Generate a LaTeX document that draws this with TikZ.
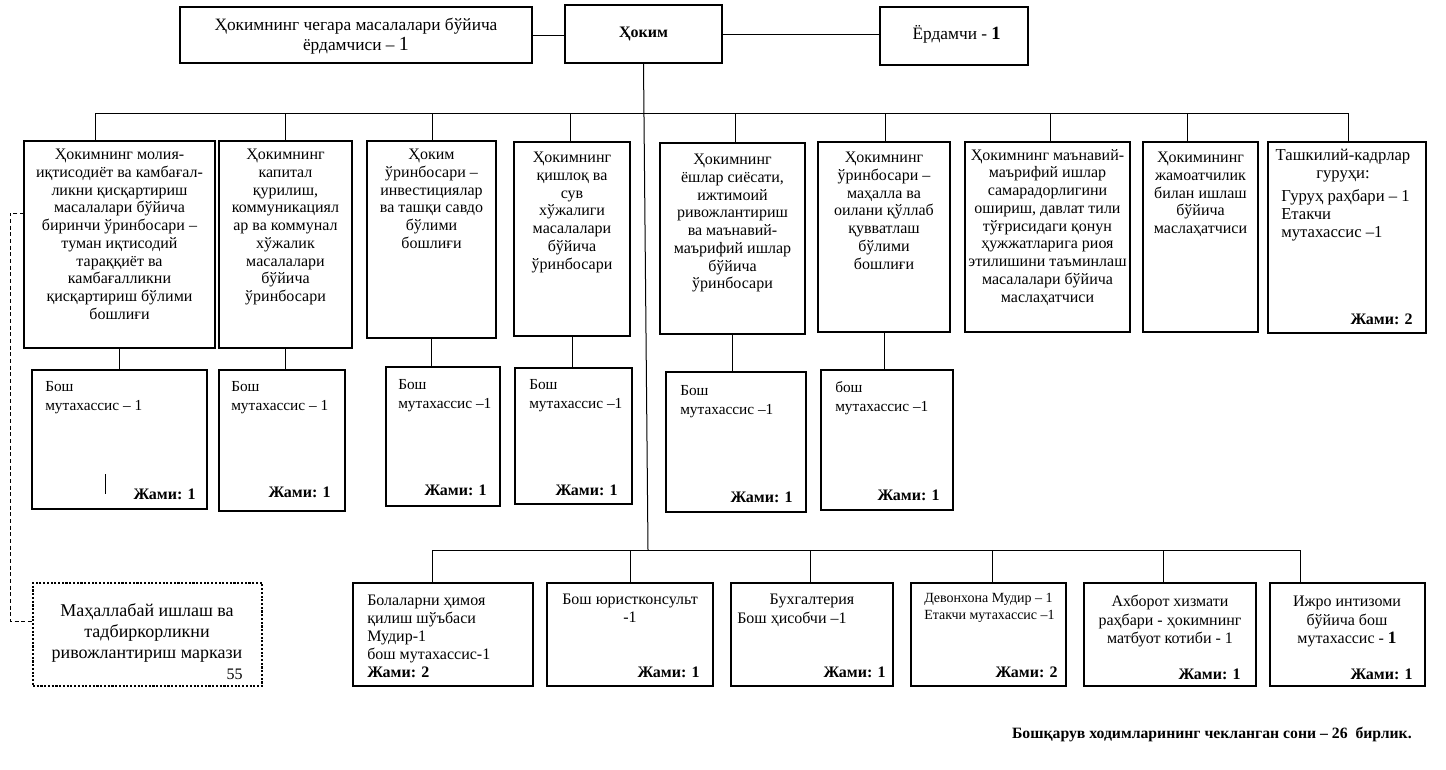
\documentclass[tikz,border=0pt]{standalone}
\usepackage{fontspec}
\setmainfont{Liberation Serif}
\usetikzlibrary{fit}
\tikzset{
  box/.style={draw, line width=0.9pt, inner sep=0pt},
  conn/.style={line width=0.75pt},
  dashy/.style={line width=0.6pt, dash pattern=on 3pt off 2pt},
  dotbox/.style={draw, line width=2pt, dash pattern=on 1.6pt off 1.2pt, inner sep=0pt},
  txt/.style={inner sep=0pt, align=center, font=\fontsize{12}{13.3}\selectfont},
  ltxt/.style={inner sep=0pt, align=left, font=\fontsize{11.5}{14.2}\selectfont},
  btxt/.style={inner sep=0pt, align=left, font=\fontsize{12}{13.5}\selectfont},
  jami/.style={inner sep=0pt, anchor=base east, font=\bfseries\fontsize{12}{13}\selectfont},
}
\begin{document}
\begin{tikzpicture}[x=0.75pt,y=-0.75pt]
\useasboundingbox (0,0) rectangle (1446,769);

% ---- top row
\node[box, fit={(180,7)(532,63)}] (ta) {};
\node[txt, font=\fontsize{13}{15}\selectfont] (tat) at ([yshift=-0.5pt]ta.center) {Ҳокимнинг чегара масалалари бўйича\\ёрдамчиси – {\fontsize{15}{15}\selectfont 1}};
\node[box, fit={(565,5)(722,63)}] (hk) {};
\node[txt, font=\bfseries\fontsize{12}{13}\selectfont] (hkt) at ([yshift=0pt]hk.center) {Ҳоким};
\node[box, fit={(880,7)(1028,65)}] (yr) {};
\node[txt, font=\fontsize{13}{14}\selectfont] (yrt) at ([xshift=2pt,yshift=1.5pt]yr.center) {Ёрдамчи - {\bfseries\fontsize{14}{15}\selectfont 1}};
\draw[conn] (ta.east) -- (ta.east -| hk.west);
\draw[conn] (hk.east) -- (hk.east -| yr.west);

% ---- upper bus
\coordinate (d1) at (95,113);
\coordinate (d2) at (285,113);
\coordinate (d3) at (432,113);
\coordinate (d4) at (570,113);
\coordinate (d5) at (735,113);
\coordinate (d6) at (885,113);
\coordinate (d7) at (1050,113);
\coordinate (d8) at (1187,113);
\coordinate (d9) at (1348,113);
\draw[conn] (d1) -- (d9);

% ---- row 2 boxes
\node[box, fit={(24,141)(215,348)}] (r21) {};
\node[box, fit={(219,141)(352,348)}] (r22) {};
\node[box, fit={(367,141)(496,338)}] (r23) {};
\node[box, fit={(514,142)(630,336)}] (r24) {};
\node[box, fit={(660,143)(805,334)}] (r25) {};
\node[box, fit={(818,142)(950,332)}] (r26) {};
\node[box, fit={(965,142)(1130,332)}] (r27) {};
\node[box, fit={(1143,142)(1258,332)}] (r28) {};
\node[box, fit={(1268,142)(1426,333)}] (r29) {};
\foreach \i in {1,...,9} {\draw[conn] (d\i) -- (d\i |- r2\i.north);}

\node[txt, anchor=north] (r21t) at (119.5,149) {Ҳокимнинг молия-\\иқтисодиёт ва камбағал-\\ликни қисқартириш\\масалалари бўйича\\биринчи ўринбосари –\\туман иқтисодий\\тараққиёт ва\\камбағалликни\\қисқартириш бўлими\\бошлиғи};
\node[txt, anchor=north] (r22t) at (285.5,149) {Ҳокимнинг\\капитал\\қурилиш,\\коммуникациял\\ар ва коммунал\\хўжалик\\масалалари\\бўйича\\ўринбосари};
\node[txt, anchor=north] (r23t) at (431.5,149) {Ҳоким\\ўринбосари –\\инвестициялар\\ва ташқи савдо\\бўлими\\бошлиғи};
\node[txt, anchor=north] (r24t) at (572,152) {Ҳокимнинг\\қишлоқ ва\\сув\\хўжалиги\\масалалари\\бўйича\\ўринбосари};
\node[txt, anchor=north] (r25t) at (732.5,154) {Ҳокимнинг\\ёшлар сиёсати,\\ижтимоий\\ривожлантириш\\ва маънавий-\\маърифий ишлар\\бўйича\\ўринбосари};
\node[txt, anchor=north] (r26t) at (884,152) {Ҳокимнинг\\ўринбосари –\\маҳалла ва\\оилани қўллаб\\қувватлаш\\бўлими\\бошлиғи};
\node[txt, anchor=north] (r27t) at (1047.5,149) {Ҳокимнинг маънавий-\\маърифий ишлар\\самарадорлигини\\ошириш, давлат тили\\тўғрисидаги қонун\\ҳужжатларига риоя\\этилишини таъминлаш\\масалалари бўйича\\маслаҳатчиси};
\node[txt, anchor=north] (r28t) at (1200.5,152) {Ҳокимининг\\жамоатчилик\\билан ишлаш\\бўйича\\маслаҳатчиси};
\node[txt, anchor=north, font=\fontsize{12.5}{13.5}\selectfont] (r29t) at (1343,149) {Ташкилий-кадрлар\\гуруҳи:};
\node[txt, anchor=north west, align=left, font=\fontsize{12.5}{13.5}\selectfont] (r29l) at (1281,189) {Гуруҳ раҳбари – 1\\Етакчи\\мутахассис –1};
\node[jami] (r29j) at (1413,324) {Жами: 2};

% ---- row 3 boxes
\node[box, fit={(32,370)(207,509)}] (r31) {};
\node[box, fit={(219,370)(345,511)}] (r32) {};
\node[box, fit={(386,367)(500,506)}] (r33) {};
\node[box, fit={(515,368)(632,504)}] (r34) {};
\node[box, fit={(666,372)(806,512)}] (r35) {};
\node[box, fit={(821,370)(953,510)}] (r36) {};
\foreach \i in {1,...,6} {\draw[conn] (r2\i.south) -- (r2\i.south |- r3\i.north);}

\node[ltxt, anchor=north west] (r31t) at (45,381) {Бош\\мутахассис – 1};
\node[ltxt, anchor=north west] (r32t) at (231,381) {Бош\\мутахассис – 1};
\node[ltxt, anchor=north west] (r33t) at (398,379) {Бош\\мутахассис –1};
\node[ltxt, anchor=north west] (r34t) at (529,379) {Бош\\мутахассис –1};
\node[ltxt, anchor=north west] (r35t) at (680,385) {Бош\\мутахассис –1};
\node[ltxt, anchor=north west] (r36t) at (835,381) {бош\\мутахассис –1};
\node[jami] (r31j) at (196,499) {Жами: 1};
\node[jami] (r32j) at (331,497) {Жами: 1};
\node[jami] (r33j) at (487,495) {Жами: 1};
\node[jami] (r34j) at (618,495) {Жами: 1};
\node[jami] (r35j) at (793,502) {Жами: 1};
\node[jami] (r36j) at (940,500) {Жами: 1};
\draw[conn] (105,474) -- (105,494);

% ---- lower bus
\coordinate (hkb) at (648,550);
\draw[conn] (hk.south) -- (hkb);
\coordinate (e1) at (432,550);
\coordinate (e2) at (630,550);
\coordinate (e3) at (810,550);
\coordinate (e4) at (992,550);
\coordinate (e5) at (1163,550);
\coordinate (e6) at (1300,550);
\draw[conn] (e1) -- (e6);

% ---- bottom boxes
\node[box, fit={(353,583)(533,686)}] (b1) {};
\node[box, fit={(547,583)(713,686)}] (b2) {};
\node[box, fit={(731,583)(893,686)}] (b3) {};
\node[box, fit={(911,583)(1066,686)}] (b4) {};
\node[box, fit={(1084,583)(1256,686)}] (b5) {};
\node[box, fit={(1270,583)(1425,686)}] (b6) {};
\foreach \i in {1,...,6} {\draw[conn] (e\i) -- (e\i |- b\i.north);}

\node[btxt, anchor=north west] (b1t) at (367,595) {Болаларни ҳимоя\\қилиш шўъбаси\\Мудир-1\\бош мутахассис-1\\\textbf{Жами: 2}};
\node[txt, anchor=north] (b2t) at (630,594) {Бош юристконсульт\\-1};
\node[txt, anchor=north] (b3t) at (812,594) {Бухгалтерия};
\node[btxt, anchor=north west] (b3l) at (737,612) {Бош ҳисобчи –1};
\node[btxt, anchor=north west, font=\fontsize{10.5}{12.5}\selectfont] (b4t) at (924,593) {Девонхона Мудир – 1\\Етакчи мутахассис –1};
\node[txt, anchor=north, font=\fontsize{12}{13.8}\selectfont] (b5t) at (1170,595) {Ахборот хизмати\\раҳбари - ҳокимнинг\\матбуот котиби - 1};
\node[txt, anchor=north, font=\fontsize{12}{13.8}\selectfont] (b6t) at (1347,596) {Ижро интизоми\\бўйича бош\\мутахассис - {\bfseries\fontsize{13}{14}\selectfont 1}};
\node[jami] (b2j) at (700,677) {Жами: 1};
\node[jami] (b3j) at (886,677) {Жами: 1};
\node[jami] (b4j) at (1058,677) {Жами: 2};
\node[jami] (b5j) at (1241,679) {Жами: 1};
\node[jami] (b6j) at (1413,679) {Жами: 1};

% ---- dotted box and dashed link
\node[dotbox, fit={(33,583)(262,686)}] (mk) {};
\node[txt, anchor=north, font=\fontsize{13.5}{16}\selectfont] (mkt) at (147,603) {Маҳаллабай ишлаш ва\\тадбиркорликни\\ривожлантириш маркази};
\node[inner sep=0pt, anchor=base east, font=\fontsize{12}{13}\selectfont] (mk55) at (243,679) {55};
\coordinate (dA) at (24,213);
\coordinate (dB) at (10,213);
\coordinate (dC) at (10,621);
\coordinate (dD) at (33,621);
\draw[dashy] (dA) -- (dB) -- (dC) -- (dD);

% ---- footer
\node[inner sep=0pt, anchor=base east, font=\bfseries\fontsize{11.8}{13}\selectfont] (foot) at (1412,738) {Бошқарув ходимларининг чекланган сони – 26\ \ бирлик.};
\end{tikzpicture}
\end{document}
